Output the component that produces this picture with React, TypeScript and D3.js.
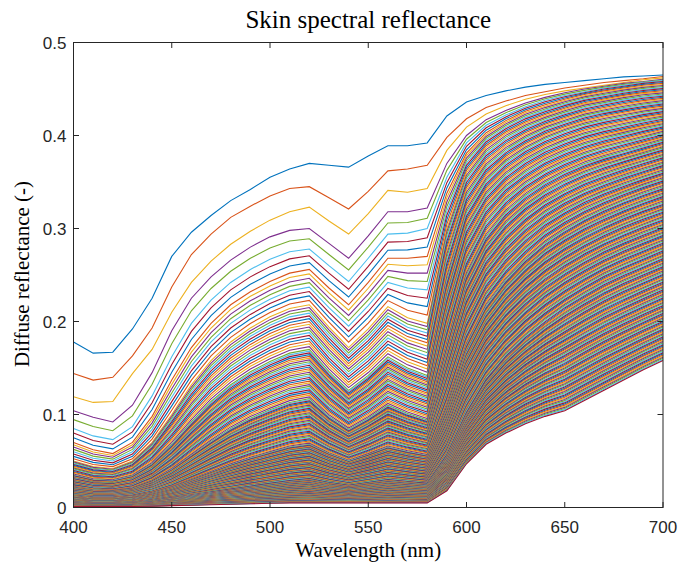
import * as d3 from "d3";
import React from "react";

// wavelength grid (nm)
const wavelengths = [400, 410, 420, 430, 440, 450, 460, 470, 480, 490, 500, 510, 520, 530, 540, 550, 560, 570, 580, 590, 600, 610, 620, 630, 640, 650, 660, 670, 680, 690, 700];

// curves, top to bottom
const curve0 = [.178, .166, .167, .192, .225, .270, .296, .314, .330, .342, .355, .364, .370, .368, .366, .378, .389, .389, .392, .421, .436, .443, .448, .452, .455, .457, .459, .461, .463, .464, .465];
const curve1 = [.144, .137, .140, .163, .193, .237, .272, .294, .312, .324, .335, .343, .345, .333, .321, .340, .362, .364, .368, .398, .418, .430, .437, .443, .447, .451, .454, .457, .459, .461, .4635];
const curve2 = [.119, .113, .114, .144, .170, .210, .242, .265, .283, .297, .309, .318, .323, .308, .294, .316, .341, .339, .343, .384, .409, .423, .432, .439, .444, .448, .451, .454, .457, .460, .462];
const curve3 = [.104, .097, .092, .110, .145, .190, .225, .248, .266, .280, .291, .298, .300, .284, .268, .292, .318, .318, .322, .370, .400, .417, .427, .435, .441, .446, .450, .453, .456, .458, .4605];
const curve4 = [.085, .077, .073, .087, .120, .162, .198, .223, .242, .256, .267, .275, .278, .260, .243, .268, .294, .295, .300, .355, .392, .411, .422, .431, .438, .443, .447, .451, .454, .457, .459];
const curve5 = [.070, .062, .058, .070, .098, .137, .172, .198, .218, .232, .243, .252, .256, .236, .218, .242, .268, .268, .270, .338, .381, .403, .416, .426, .433, .439, .444, .448, .451, .454, .456];
const curve6 = [.050, .044, .042, .050, .070, .100, .132, .158, .178, .193, .205, .214, .218, .194, .172, .192, .216, .204, .198, .300, .360, .387, .402, .413, .421, .428, .434, .438, .442, .445, .447];
const curve7 = [.035, .030, .029, .034, .047, .068, .092, .114, .132, .146, .157, .166, .170, .146, .126, .142, .162, .150, .142, .245, .318, .352, .372, .386, .397, .405, .412, .417, .421, .425, .428];
const curve8 = [.022, .019, .018, .021, .029, .041, .056, .071, .085, .096, .105, .113, .117, .098, .084, .096, .110, .101, .094, .175, .250, .292, .318, .336, .350, .361, .370, .377, .383, .389, .395];
const curve9 = [.012, .010, .010, .012, .016, .022, .030, .038, .046, .053, .059, .065, .068, .058, .050, .057, .065, .060, .056, .110, .175, .217, .245, .267, .285, .299, .311, .321, .330, .338, .345];
const curve10 = [.005, .004, .004, .005, .007, .010, .013, .016, .019, .022, .025, .028, .030, .026, .023, .026, .029, .027, .025, .055, .100, .135, .160, .180, .197, .212, .225, .237, .247, .256, .265];
const curve11 = [.001, .001, .001, .001, .0015, .002, .0025, .003, .0035, .004, .0045, .005, .005, .005, .005, .005, .005, .005, .005, .018, .047, .068, .080, .090, .098, .104, .115, .126, .137, .148, .158];

const keyCurves = [curve0, curve1, curve2, curve3, curve4, curve5, curve6, curve7, curve8, curve9, curve10, curve11];
// how many lines sit between neighbouring read curves
const linesBetween = [0, 0, 0, 1, 2, 7, 15, 27, 41, 66, 88];

const xTicks = [400, 450, 500, 550, 600, 650, 700];
const yTicks = [0, 0.1, 0.2, 0.3, 0.4, 0.5];
const colors = ["#0072BD", "#D95319", "#EDB120", "#7E2F8E", "#77AC30", "#4DBEEE", "#A2142F"];

const W = 680, H = 563;
const left = 73.5, right = 663, top = 42.5, bottom = 507.5;

export default function App() {
  const x = d3.scaleLinear().domain([400, 700]).range([left, right]);
  const y = d3.scaleLinear().domain([0, 0.5]).range([bottom, top]);

  const series: number[][] = [];
  keyCurves.forEach((c, g) => {
    series.push(c);
    if (g < keyCurves.length - 1) {
      const next = keyCurves[g + 1];
      const n = linesBetween[g];
      for (let j = 1; j <= n; j++) {
        const t = j / (n + 1);
        series.push(c.map((v, k) => v + (next[k] - v) * t));
      }
    }
  });

  const line = d3.line<number>()
    .x((_, i) => x(wavelengths[i]))
    .y(d => y(d));

  const axisColor = "#262626";
  const tick = 5.5;
  const sans = "Liberation Sans, Arial, sans-serif";
  const serif = "Liberation Serif, Times New Roman, serif";

  return (
    <svg width={W} height={H} style={{ position: "absolute", left: 0, top: 0, background: "#fff" }}>
      <text x={(left + right) / 2} y={28} textAnchor="middle"
        style={{ fontFamily: serif, fontSize: 25 }} fill="#000">
        Skin spectral reflectance
      </text>
      <g>
        {series.map((s, i) => (
          <path key={i} d={line(s) || ""} fill="none" stroke={colors[i % 7]} strokeWidth={1.1} />
        ))}
      </g>
      <rect x={left} y={top} width={right - left} height={bottom - top} fill="none" stroke={axisColor} strokeWidth={1} />
      {xTicks.map(t => (
        <g key={"x" + t}>
          <line x1={x(t)} x2={x(t)} y1={bottom} y2={bottom - tick} stroke={axisColor} />
          <line x1={x(t)} x2={x(t)} y1={top} y2={top + tick} stroke={axisColor} />
          <text x={x(t)} y={bottom + 25.5} textAnchor="middle" fill={axisColor}
            style={{ fontFamily: sans, fontSize: 17 }}>{t}</text>
        </g>
      ))}
      {yTicks.map(t => (
        <g key={"y" + t}>
          <line x1={left} x2={left + tick} y1={y(t)} y2={y(t)} stroke={axisColor} />
          <line x1={right} x2={right - tick} y1={y(t)} y2={y(t)} stroke={axisColor} />
          <text x={left - 7} y={y(t) + 6} textAnchor="end" fill={axisColor}
            style={{ fontFamily: sans, fontSize: 17 }}>{String(t)}</text>
        </g>
      ))}
      <text x={(left + right) / 2} y={557} textAnchor="middle" fill="#000"
        style={{ fontFamily: serif, fontSize: 21 }}>
        Wavelength (nm)
      </text>
      <text transform={`translate(29, 274) rotate(-90)`} textAnchor="middle" fill="#000"
        style={{ fontFamily: serif, fontSize: 21 }}>
        Diffuse reflectance (-)
      </text>
    </svg>
  );
}
